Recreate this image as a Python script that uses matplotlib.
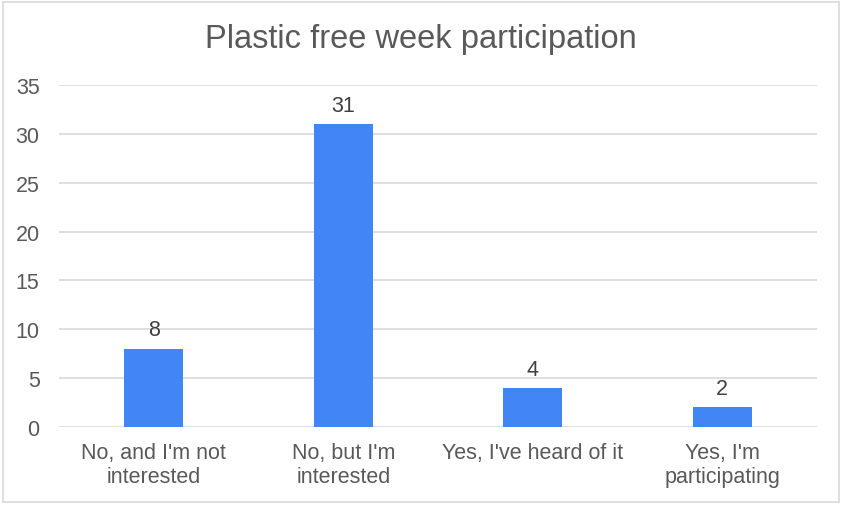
import matplotlib
matplotlib.use("Agg")
import matplotlib.pyplot as plt
from matplotlib.patches import Rectangle

categories = ["No, and I'm not\ninterested", "No, but I'm\ninterested", "Yes, I've heard of it", "Yes, I'm\nparticipating"]
values = [8, 31, 4, 2]
yticks = [0, 5, 10, 15, 20, 25, 30, 35]
title = "Plastic free week participation"

plt.rcParams['font.family'] = ['Liberation Sans', 'DejaVu Sans']

fig = plt.figure(figsize=(8.42, 5.06), dpi=100)
fig.patch.set_facecolor('white')
fig.patches.append(Rectangle((0.003, 0.005), 0.994, 0.99, transform=fig.transFigure,
                             fill=False, edgecolor='#d9d9d9', linewidth=1.2))
ax = fig.add_axes([0.0701, 0.1542, 0.9002, 0.6758])
x = list(range(len(categories)))
bars = ax.bar(x, values, width=0.31, color='#4285F4', zorder=3)
ax.set_xlim(-0.5, len(categories) - 0.5)
ax.set_ylim(0, 35)
ax.set_yticks(yticks)
ax.yaxis.grid(True, color='#d9d9d9', linewidth=1.2, zorder=0)
for s in ax.spines.values():
    s.set_visible(False)
ax.tick_params(axis='both', length=0, labelsize=15.5, colors='#595959')
ax.tick_params(axis='y', pad=14)
ax.tick_params(axis='x', pad=11)
ax.set_xticks(x)
ax.set_xticklabels(categories, linespacing=1.15)
for xi, v in zip(x, values):
    ax.annotate(str(v), (xi, v), xytext=(0, 6), textcoords='offset points',
                ha='center', va='bottom', fontsize=15.5, color='#404040')
fig.text(0.5, 0.922, title, ha='center', va='center', fontsize=23.5, color='#595959')
fig.savefig('out.png', dpi=100, facecolor='white')
